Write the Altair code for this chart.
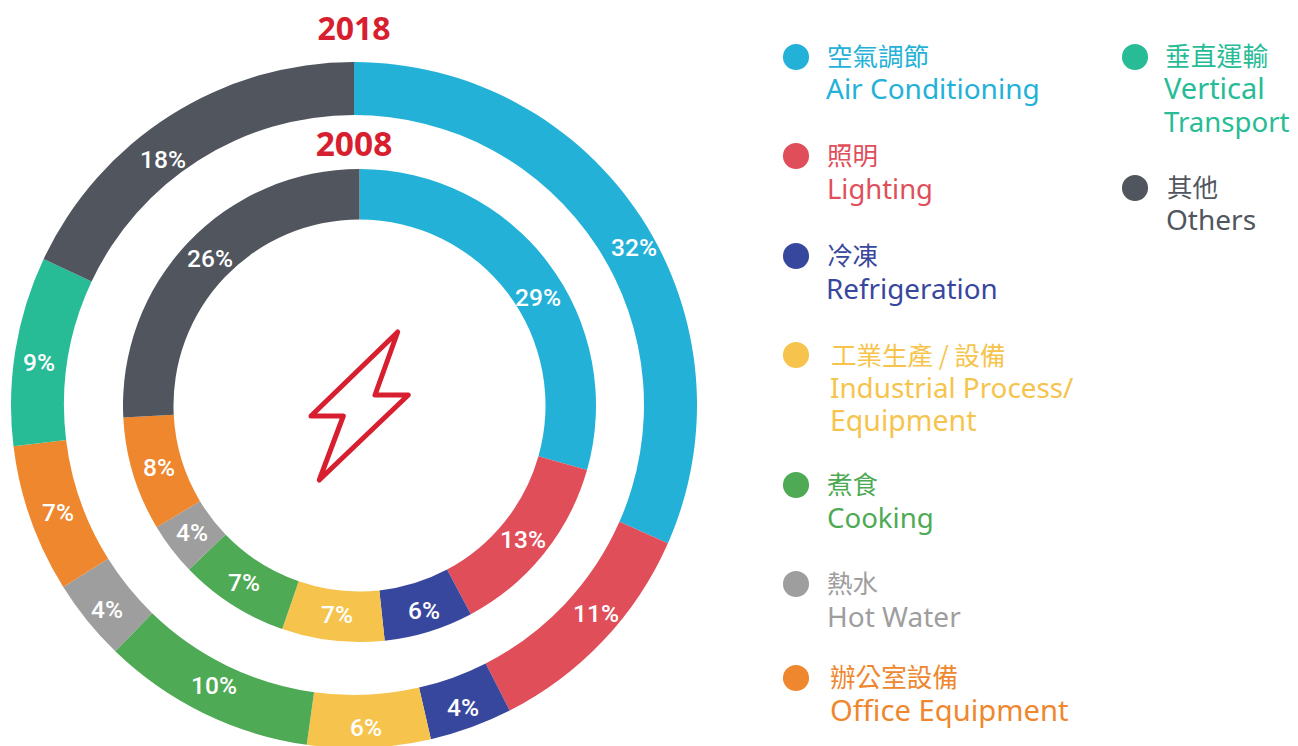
import altair as alt
import pandas as pd

NAMES_ZH = ["空氣調節", "照明", "冷凍", "工業生產 / 設備", "煮食", "熱水", "辦公室設備", "垂直運輸", "其他"]
NAMES_EN = [["Air Conditioning"], ["Lighting"], ["Refrigeration"], ["Industrial Process/", "Equipment"],
            ["Cooking"], ["Hot Water"], ["Office Equipment"], ["Vertical", "Transport"], ["Others"]]
COLORS = ["#23B1D8", "#E04E5A", "#38479E", "#F6C44C", "#4EAA54", "#9E9E9E", "#EE872E", "#27BC96", "#50555E"]

# slice sizes read from the arcs; printed labels are the rounded figures
VALUES_2018 = [31.6, 10.9, 3.9, 5.8, 10.05, 3.85, 6.98, 8.92, 18.0]
LABELS_2018 = [32, 11, 4, 6, 10, 4, 7, 9, 18]
VALUES_2008 = [29.4, 12.8, 6.1, 7.0, 7.5, 3.6, 7.8, 0, 25.8]
LABELS_2008 = [29, 13, 6, 7, 7, 4, 8, 0, 26]

# layout in page pixels
OFF = 8
LABEL_XY_2018 = [(634, 249), (596, 615), (463, 709), (366, 729), (214, 687), (107, 611), (58, 514), (39, 364), (163, 161)]
LABEL_XY_2008 = [(538, 299), (523, 541), (424, 612), (337, 616), (244, 584), (192, 534), (159, 469), (0, 0), (210, 260)]
DOT_X = [796, 796, 796, 796, 796, 796, 796, 1135, 1135]
DOT_Y = [57, 156, 256, 355, 485, 584, 678, 57, 188]
ZH_X = [827, 827, 827, 831, 827, 827, 830, 1165, 1167]
ZH_Y = [58, 157, 257, 357, 486, 585, 679, 58, 189]
ZH_SIZE = [25.5, 25.5, 25.5, 25.5, 25.5, 25.5, 25.6, 25.8, 25.5]
EN_X = [826, 827, 826, 830, 827, 827, 830, 1164, 1166]
EN_Y = [[99], [199], [299], [398, 431], [528], [627], [721], [99, 132], [230]]
EN_SIZE = [[28], [27.4], [27.8], [27.8, 28.5], [27.6], [28], [29.2], [29, 27.6], [28]]

LATIN = "Noto Sans"
CJK = "Noto Sans CJK TC"
RED = "#D71F30"

x_id = alt.X("x:Q", scale=None, axis=None)
y_id = alt.Y("y:Q", scale=None, axis=None)
col_id = alt.Color("color:N", scale=None)
size_id = alt.Size("s:Q", scale=None, legend=None)


def ring(values, labels, label_xy, cx, cy, r_in, r_out):
    df = pd.DataFrame({"idx": range(len(values)), "value": values, "color": COLORS})
    df = df[df.value > 0]
    arc = alt.Chart(df).mark_arc(radius=r_out, radius2=r_in).encode(
        theta=alt.Theta("value:Q", stack="normalize"),
        order=alt.Order("idx:Q"),
        x=alt.value(cx - OFF),
        y=alt.value(cy - OFF),
        color=col_id,
    )
    tx = pd.DataFrame({"x": [p[0] - OFF for p in label_xy], "y": [p[1] - OFF for p in label_xy],
                       "t": [f"{v}%" for v in labels], "v": labels})
    tx = tx[tx.v > 0]
    txt = alt.Chart(tx).mark_text(font="Roboto", fontWeight=500, fontSize=24.5, color="white",
                                  align="center", baseline="middle").encode(x=x_id, y=y_id, text="t:N")
    return arc, txt


a18, t18 = ring(VALUES_2018, LABELS_2018, LABEL_XY_2018, 354, 405, 290, 343)
a08, t08 = ring(VALUES_2008, LABELS_2008, LABEL_XY_2008, 359.5, 405.5, 186, 236.5)

dots = pd.DataFrame({"x": [v - OFF for v in DOT_X], "y": [v - OFF for v in DOT_Y], "color": COLORS})
dot_layer = alt.Chart(dots).mark_point(shape="circle", size=680, filled=True, opacity=1).encode(x=x_id, y=y_id, color=col_id)

zh = pd.DataFrame({"x": [v - OFF for v in ZH_X], "y": [v - OFF for v in ZH_Y], "t": NAMES_ZH, "color": COLORS, "s": ZH_SIZE})
zh_layer = alt.Chart(zh).mark_text(font=CJK, align="left", baseline="middle").encode(
    x=x_id, y=y_id, text="t:N", color=col_id, size=size_id)

rows = []
for i, lines in enumerate(NAMES_EN):
    for line, yy, ss in zip(lines, EN_Y[i], EN_SIZE[i]):
        rows.append({"x": EN_X[i] - OFF, "y": yy - OFF, "t": line, "color": COLORS[i], "s": ss})
en_layer = alt.Chart(pd.DataFrame(rows)).mark_text(font=LATIN, align="left", baseline="alphabetic").encode(
    x=x_id, y=y_id, text="t:N", color=col_id, size=size_id)

titles = pd.DataFrame({"x": [354 - OFF, 354 - OFF], "y": [40 - OFF, 156 - OFF], "t": ["2018", "2008"], "s": [32, 33.5]})
title_layer = alt.Chart(titles).mark_text(font="Open Sans", fontWeight="bold", color=RED,
                                          align="center", baseline="alphabetic").encode(x=x_id, y=y_id, text="t:N", size=size_id)

BOLT = "M0.754,-1.48 L0.3,-0.22 L0.966,-0.22 L-0.814,1.48 L-0.334,0.2 L-0.98,0.2 Z"
bolt = alt.Chart(pd.DataFrame({"x": [360 - OFF], "y": [406 - OFF]})).mark_point(
    shape=BOLT, size=10000, filled=False, stroke=RED, strokeWidth=5, strokeJoin="round", opacity=1
).encode(x=x_id, y=y_id)

chart = alt.layer(a18, a08, t18, t08, dot_layer, zh_layer, en_layer, title_layer, bolt).properties(
    width=1282, height=738, padding=0, autosize=alt.AutoSizeParams(type="none")
).configure_view(stroke=None)

chart.save("out.html", embed_options={"renderer": "svg", "actions": False})
